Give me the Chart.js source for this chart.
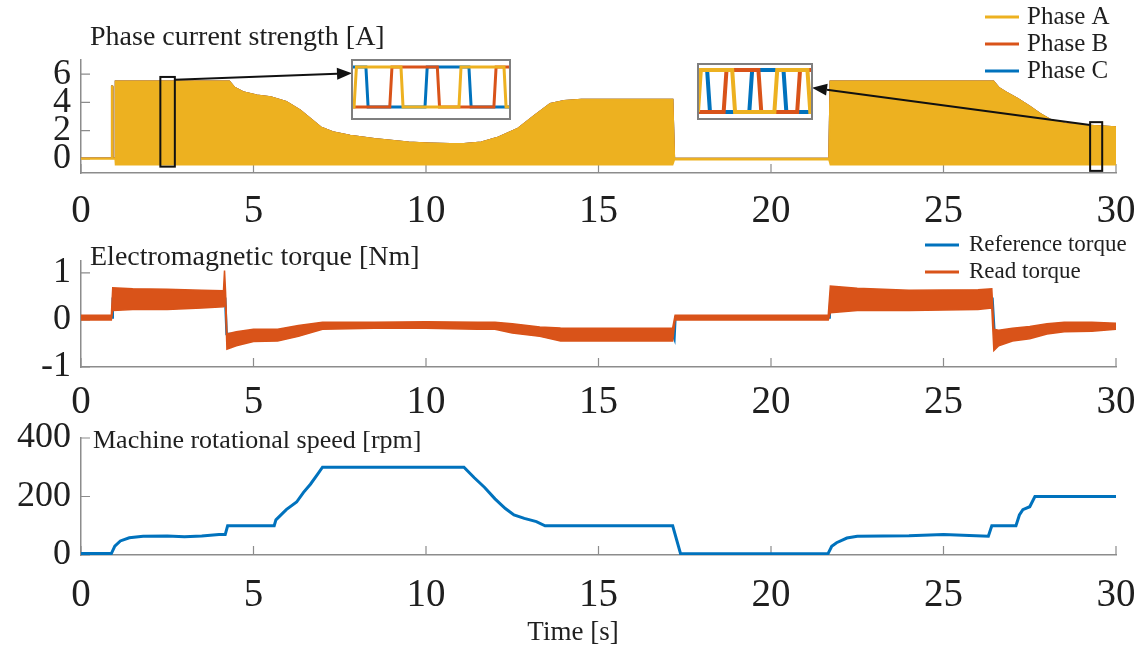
<!DOCTYPE html>
<html>
<head>
<meta charset="utf-8">
<title>Phase current, torque and speed</title>
<script src="https://cdn.jsdelivr.net/npm/chart.js@4.4.1/dist/chart.umd.min.js"></script>
<style>
  html, body { margin: 0; padding: 0; background: #fff; }
  #fig { position: relative; width: 1145px; height: 652px; overflow: hidden; }
  #fig canvas { position: absolute; }
</style>
</head>
<body>
<div id="fig">
  <canvas id="current" width="1145" height="235" style="left:0px;top:0px"></canvas>
  <canvas id="torque" width="1145" height="185" style="left:0px;top:235px"></canvas>
  <canvas id="speed" width="1145" height="232" style="left:0px;top:420px"></canvas>
  <canvas id="zoomA" width="162" height="63" style="left:350px;top:58px"></canvas>
  <canvas id="zoomB" width="118" height="59" style="left:696px;top:62px"></canvas>
</div>
<script>
const timeTicks = [0, 5, 10, 15, 20, 25, 30]
const currentTicks = [0, 2, 4, 6]
const torqueTicks = [-1, 0, 1]
const speedTicks = [0, 200, 400]

// phase current band (upper / lower envelope), time in s, current in A
const phaseT = [0, 0.88, 0.89, 0.91, 0.92, 0.99, 1.0, 4.3, 4.45, 4.7, 5.1, 5.5, 5.95, 6.35, 6.65, 6.95, 7.3, 7.8, 8.5, 9.0, 9.5, 10.1, 10.7, 11.1, 11.6, 12.1, 12.65, 13.15, 13.6, 14.0, 14.5, 17.15, 17.2, 21.68, 21.72, 26.45, 26.6, 26.8, 27.15, 27.5, 27.8, 28.1, 28.55, 29.0, 29.5, 30]
const phaseHigh = [0.05, 0.05, 5.15, 5.15, 0.05, 0.05, 5.5, 5.5, 5.05, 4.74, 4.5, 4.38, 4.05, 3.45, 2.85, 2.25, 1.9, 1.66, 1.42, 1.3, 1.18, 1.11, 1.07, 1.07, 1.18, 1.54, 2.13, 3.08, 3.9, 4.12, 4.2, 4.2, 0.02, 0.02, 5.5, 5.5, 5.05, 4.74, 4.27, 3.72, 3.2, 2.77, 2.49, 2.39, 2.32, 2.25]
const phaseLow = [0, 0, 0, 0, 0, 0, -0.42, -0.42, -0.42, -0.42, -0.42, -0.42, -0.42, -0.42, -0.42, -0.42, -0.42, -0.42, -0.42, -0.42, -0.42, -0.42, -0.42, -0.42, -0.42, -0.42, -0.42, -0.42, -0.42, -0.42, -0.42, -0.42, -0.06, -0.06, -0.42, -0.42, -0.42, -0.42, -0.42, -0.42, -0.42, -0.42, -0.42, -0.42, -0.42, -0.42]

// torque [Nm]
const refT = [0, 0.9, 0.92, 4.18, 4.22, 5.6, 5.9, 6.5, 7.5, 11.8, 12.5, 13.0, 13.5, 17.15, 17.2, 17.23, 21.7, 21.72, 26.42, 26.48, 27.3, 27.8, 28.3, 30]
const refNm = [0.05, 0.05, 0.45, 0.45, -0.3, -0.3, -0.2, -0.15, -0.1, -0.1, -0.2, -0.27, -0.3, -0.3, -0.4, 0.05, 0.05, 0.45, 0.45, -0.3, -0.3, -0.2, -0.15, -0.15]
const readT = [0, 0.88, 0.92, 1.5, 2.5, 3.5, 4.13, 4.16, 4.19, 4.23, 4.5, 5.0, 5.7, 6.3, 7.0, 8.5, 10, 11.5, 12.0, 12.5, 13.3, 13.9, 15.5, 17.15, 17.22, 21.66, 21.72, 22.5, 24, 26.0, 26.4, 26.46, 26.6, 27.0, 27.5, 28.0, 28.5, 29.3, 30]
const readHigh = [0.1, 0.1, 0.68, 0.66, 0.65, 0.63, 0.62, 1.05, 0.6, -0.3, -0.25, -0.2, -0.2, -0.12, -0.05, -0.05, -0.04, -0.05, -0.05, -0.08, -0.15, -0.17, -0.18, -0.17, 0.1, 0.1, 0.72, 0.67, 0.63, 0.64, 0.66, -0.2, -0.22, -0.18, -0.14, -0.08, -0.05, -0.05, -0.07]
const readLow = [0, 0, 0.2, 0.22, 0.22, 0.25, 0.28, 0.3, 0.3, -0.62, -0.55, -0.46, -0.45, -0.35, -0.2, -0.18, -0.18, -0.2, -0.2, -0.28, -0.35, -0.45, -0.45, -0.45, 0, 0, 0.15, 0.2, 0.2, 0.22, 0.25, -0.65, -0.55, -0.45, -0.4, -0.3, -0.25, -0.24, -0.2]

// speed [rpm]
const speedT = [0, 0.88, 0.98, 1.14, 1.4, 1.8, 2.5, 3.0, 3.5, 4.0, 4.18, 4.25, 5.6, 5.65, 5.95, 6.25, 6.45, 6.65, 6.85, 7.0, 11.1, 11.4, 11.7, 12.0, 12.3, 12.55, 12.85, 13.2, 13.45, 17.15, 17.38, 17.45, 21.65, 21.76, 21.9, 22.2, 22.5, 24, 25, 25.75, 26.3, 26.4, 27.1, 27.2, 27.3, 27.5, 27.65, 30]
const speedRpm = [5, 5, 30, 48, 59, 64, 65, 62, 65, 70, 70, 100, 100, 120, 155, 181, 214, 242, 275, 300, 300, 264, 231, 192, 159, 137, 125, 114, 100, 100, 4, 4, 4, 30, 42, 58, 64, 66, 70, 67, 64, 100, 100, 137, 155, 165, 200, 200]

// zoomed windows (position across the inset 0..100, current in A)
const zoomAuA = [0, 1.3, 2.8, 31, 32.3, 67.7, 69, 96.2, 97.5, 100]
const zoomAiA = [-0.3, -0.3, 5.5, 5.5, -0.3, -0.3, 5.5, 5.5, -0.3, -0.3]
const zoomAuB = [0, 23.9, 25.3, 54, 55.4, 89.8, 91.2, 100]
const zoomAiB = [-0.3, -0.3, 5.5, 5.5, -0.3, -0.3, 5.5, 5.5]
const zoomAuC = [0, 8.8, 10.2, 46.2, 47.6, 74, 75.4, 100]
const zoomAiC = [5.5, 5.5, -0.3, -0.3, 5.5, 5.5, -0.3, -0.3]
const zoomBuA = [0, 0.5, 2.5, 30, 32.5, 67, 69.5, 96, 98.5, 100]
const zoomBiA = [-0.2, -0.2, 2.3, 2.3, -0.2, -0.2, 2.3, 2.3, -0.2, -0.2]
const zoomBuB = [0, 22.5, 25, 53, 55.5, 87, 89.5, 100]
const zoomBiB = [-0.2, -0.2, 2.3, 2.3, -0.2, -0.2, 2.3, 2.3]
const zoomBuC = [0, 8, 10.5, 45, 47.5, 75, 77.5, 100]
const zoomBiC = [2.3, 2.3, -0.2, -0.2, 2.3, 2.3, -0.2, -0.2]

// rectangles on the current plot: [t0, t1, i0, i1] and where the arrows go
const zoomWindows = [[2.3, 2.72, -0.55, 5.8], [29.25, 29.6, -0.85, 2.6]]
const arrowFrom = [[2.72, 5.6], [29.25, 2.4]]
const arrowTo = [[0, 4.6], [100, 1.25]]

const ORANGE = '#EDB120'
const RED = '#D95319'
const BLUE = '#0072BD'
const AXIS = '#8c8c8c'
const INK = '#1f1f1f'
const SERIF = '"Liberation Serif", "Times New Roman", serif'

const pts = (xs, ys) => xs.map((x, i) => ({ x: x, y: ys[i] }))

function timeAxis(height, pad) {
    return {
        type: 'linear', min: 0, max: 30,
        afterBuildTicks: (s) => { s.ticks = timeTicks.map(v => ({ value: v })) },
        afterFit: (s) => { s.height = height; s.paddingLeft = 0; s.paddingRight = 0 },
        grid: { display: false, drawTicks: false },
        border: { color: AXIS, width: 1.5 },
        ticks: { font: { family: SERIF, size: 39 }, color: INK, padding: pad, maxRotation: 0, autoSkip: false }
    }
}

function valueAxis(min, max, ticks) {
    return {
        type: 'linear', min: min, max: max,
        afterBuildTicks: (s) => { s.ticks = ticks.map(v => ({ value: v })) },
        afterFit: (s) => { s.width = 81; s.paddingTop = 0; s.paddingBottom = 0 },
        grid: { display: false, drawTicks: false },
        border: { color: AXIS, width: 1.5 },
        ticks: { font: { family: SERIF, size: 36 }, color: INK, padding: 10, autoSkip: false }
    }
}

// ticks inside the box, titles and legends like the matlab figure
const panel = {
    id: 'panel',
    beforeDatasetsDraw(chart) {
        const ctx = chart.ctx
        const area = chart.chartArea
        const xs = chart.scales.x, ys = chart.scales.y
        ctx.save()
        ctx.strokeStyle = AXIS
        ctx.lineWidth = 1.2
        ctx.beginPath()
        xs.ticks.forEach(t => {
            const p = xs.getPixelForValue(t.value)
            ctx.moveTo(p, area.bottom)
            ctx.lineTo(p, area.bottom - 9)
        })
        ys.ticks.forEach(t => {
            const p = ys.getPixelForValue(t.value)
            ctx.moveTo(area.left, p)
            ctx.lineTo(area.left + 9, p)
        })
        ctx.stroke()
        ctx.restore()
    },
    afterDraw(chart, args, opts) {
        const ctx = chart.ctx
        ctx.save()
        ctx.fillStyle = INK
        ctx.textBaseline = 'middle'
        if (opts.title) {
            ctx.font = opts.titleSize + 'px ' + SERIF
            ctx.fillText(opts.title, opts.titleX, opts.titleY)
        }
        if (opts.xTitle) {
            ctx.font = '27px ' + SERIF
            ctx.textAlign = 'center'
            ctx.fillText(opts.xTitle, opts.xTitleX, opts.xTitleY)
            ctx.textAlign = 'left'
        }
        if (opts.legendX) {
            ctx.font = opts.legendSize + 'px ' + SERIF
            let row = 0
            chart.data.datasets.forEach(ds => {
                if (!ds.label) return
                const y = opts.legendY + row * opts.legendStep
                ctx.strokeStyle = ds.borderColor
                ctx.lineWidth = 3
                ctx.beginPath()
                ctx.moveTo(opts.legendX, y)
                ctx.lineTo(opts.legendX + 34, y)
                ctx.stroke()
                ctx.fillText(ds.label, opts.legendX + opts.legendGap, y)
                row++
            })
        }
        ctx.restore()
    }
}

const insetFrame = {
    id: 'insetFrame',
    beforeDatasetsDraw(chart) {
        const a = chart.chartArea
        chart.ctx.save()
        chart.ctx.fillStyle = '#fff'
        chart.ctx.fillRect(a.left, a.top, a.right - a.left, a.bottom - a.top)
        chart.ctx.restore()
    },
    afterDraw(chart) {
        const a = chart.chartArea
        chart.ctx.save()
        chart.ctx.strokeStyle = '#7f7f7f'
        chart.ctx.lineWidth = 2
        chart.ctx.strokeRect(a.left, a.top, a.right - a.left, a.bottom - a.top)
        chart.ctx.restore()
    }
}

function insetChart(id, series, yMin, yMax, width) {
    return new Chart(document.getElementById(id), {
        type: 'line',
        data: {
            datasets: series.map((s, i) => ({
                data: s[0], borderColor: s[1], borderWidth: width, order: i
            }))
        },
        options: {
            responsive: false, animation: false, events: [],
            layout: { padding: 2 },
            elements: { point: { radius: 0 }, line: { tension: 0 } },
            scales: {
                x: { type: 'linear', display: false, min: 0, max: 100 },
                y: { type: 'linear', display: false, min: yMin, max: yMax }
            },
            plugins: { legend: { display: false }, tooltip: { enabled: false } }
        },
        plugins: [insetFrame]
    })
}

const insets = [
    insetChart('zoomA', [[pts(zoomAuA, zoomAiA), ORANGE], [pts(zoomAuB, zoomAiB), RED], [pts(zoomAuC, zoomAiC), BLUE]], -2.04, 6.52, 3),
    insetChart('zoomB', [[pts(zoomBuA, zoomBiA), ORANGE], [pts(zoomBuB, zoomBiB), RED], [pts(zoomBuC, zoomBiC), BLUE]], -0.62, 2.66, 4)
]

function drawArrow(ctx, x0, y0, x1, y1) {
    const ang = Math.atan2(y1 - y0, x1 - x0)
    const len = 15, half = 6
    const bx = x1 - len * Math.cos(ang), by = y1 - len * Math.sin(ang)
    ctx.beginPath()
    ctx.moveTo(x0, y0)
    ctx.lineTo(bx, by)
    ctx.stroke()
    ctx.beginPath()
    ctx.moveTo(x1, y1)
    ctx.lineTo(bx + half * Math.sin(ang), by - half * Math.cos(ang))
    ctx.lineTo(bx - half * Math.sin(ang), by + half * Math.cos(ang))
    ctx.closePath()
    ctx.fill()
}

const zoomMarks = {
    id: 'zoomMarks',
    afterDatasetsDraw(chart) {
        const ctx = chart.ctx
        const xs = chart.scales.x, ys = chart.scales.y
        ctx.save()
        ctx.strokeStyle = '#111'
        ctx.fillStyle = '#111'
        ctx.lineWidth = 2
        zoomWindows.forEach((w, i) => {
            const x0 = xs.getPixelForValue(w[0]), x1 = xs.getPixelForValue(w[1])
            const y0 = ys.getPixelForValue(w[3]), y1 = ys.getPixelForValue(w[2])
            ctx.strokeRect(x0, y0, x1 - x0, y1 - y0)
            const inset = insets[i]
            const sx = xs.getPixelForValue(arrowFrom[i][0])
            const sy = ys.getPixelForValue(arrowFrom[i][1])
            const tx = inset.canvas.offsetLeft + inset.scales.x.getPixelForValue(arrowTo[i][0])
            const ty = inset.canvas.offsetTop + inset.scales.y.getPixelForValue(arrowTo[i][1])
            drawArrow(ctx, sx, sy, tx, ty)
        })
        ctx.restore()
    }
}

function baseOptions(top, xHeight, xPad, yAxis, panelOpts) {
    return {
        responsive: false, animation: false, events: [],
        layout: { padding: { left: 0, right: 29, top: top, bottom: 0 } },
        elements: { point: { radius: 0 }, line: { tension: 0 } },
        scales: { x: timeAxis(xHeight, xPad), y: yAxis },
        plugins: { legend: { display: false }, tooltip: { enabled: false }, panel: panelOpts }
    }
}

// Phase current
new Chart(document.getElementById('current'), {
    type: 'line',
    data: {
        datasets: [
            { label: 'Phase A', data: pts(phaseT, phaseHigh), borderColor: ORANGE, backgroundColor: ORANGE, borderWidth: 1.5, fill: '+1', order: 0 },
            { label: '', data: pts(phaseT, phaseLow), borderColor: ORANGE, borderWidth: 1.5, fill: false, order: 1 },
            { label: 'Phase B', data: pts(phaseT, phaseHigh), borderColor: RED, borderWidth: 1.5, fill: false, order: 2 },
            { label: 'Phase C', data: pts(phaseT, phaseHigh), borderColor: BLUE, borderWidth: 1.5, fill: false, order: 3 }
        ]
    },
    options: baseOptions(60, 62, 15, valueAxis(-1, 7, currentTicks), {
        title: 'Phase current strength [A]', titleSize: 28, titleX: 90, titleY: 38,
        legendX: 985, legendY: 17, legendStep: 27, legendSize: 25, legendGap: 42
    }),
    plugins: [panel, zoomMarks]
})

// Electromagnetic torque
new Chart(document.getElementById('torque'), {
    type: 'line',
    data: {
        datasets: [
            { label: 'Reference torque', data: pts(refT, refNm), borderColor: BLUE, borderWidth: 2.5, fill: false, order: 2 },
            { label: 'Read torque', data: pts(readT, readHigh), borderColor: RED, backgroundColor: RED, borderWidth: 1.5, fill: '+1', order: 0 },
            { label: '', data: pts(readT, readLow), borderColor: RED, borderWidth: 1.5, fill: false, order: 1 }
        ]
    },
    options: baseOptions(26, 53, 12, valueAxis(-1, 1.25, torqueTicks), {
        title: 'Electromagnetic torque [Nm]', titleSize: 28, titleX: 90, titleY: 23,
        legendX: 925, legendY: 10, legendStep: 27, legendSize: 23, legendGap: 44
    }),
    plugins: [panel]
})

// Machine speed
new Chart(document.getElementById('speed'), {
    type: 'line',
    data: {
        datasets: [
            { label: 'Machine rotational speed', data: pts(speedT, speedRpm), borderColor: BLUE, borderWidth: 3, fill: false }
        ]
    },
    options: baseOptions(18, 97, 17, valueAxis(0, 400, speedTicks), {
        title: 'Machine rotational speed [rpm]', titleSize: 26, titleX: 93, titleY: 21,
        xTitle: 'Time [s]', xTitleX: 573, xTitleY: 213
    }),
    plugins: [panel]
})
</script>
</body>
</html>
